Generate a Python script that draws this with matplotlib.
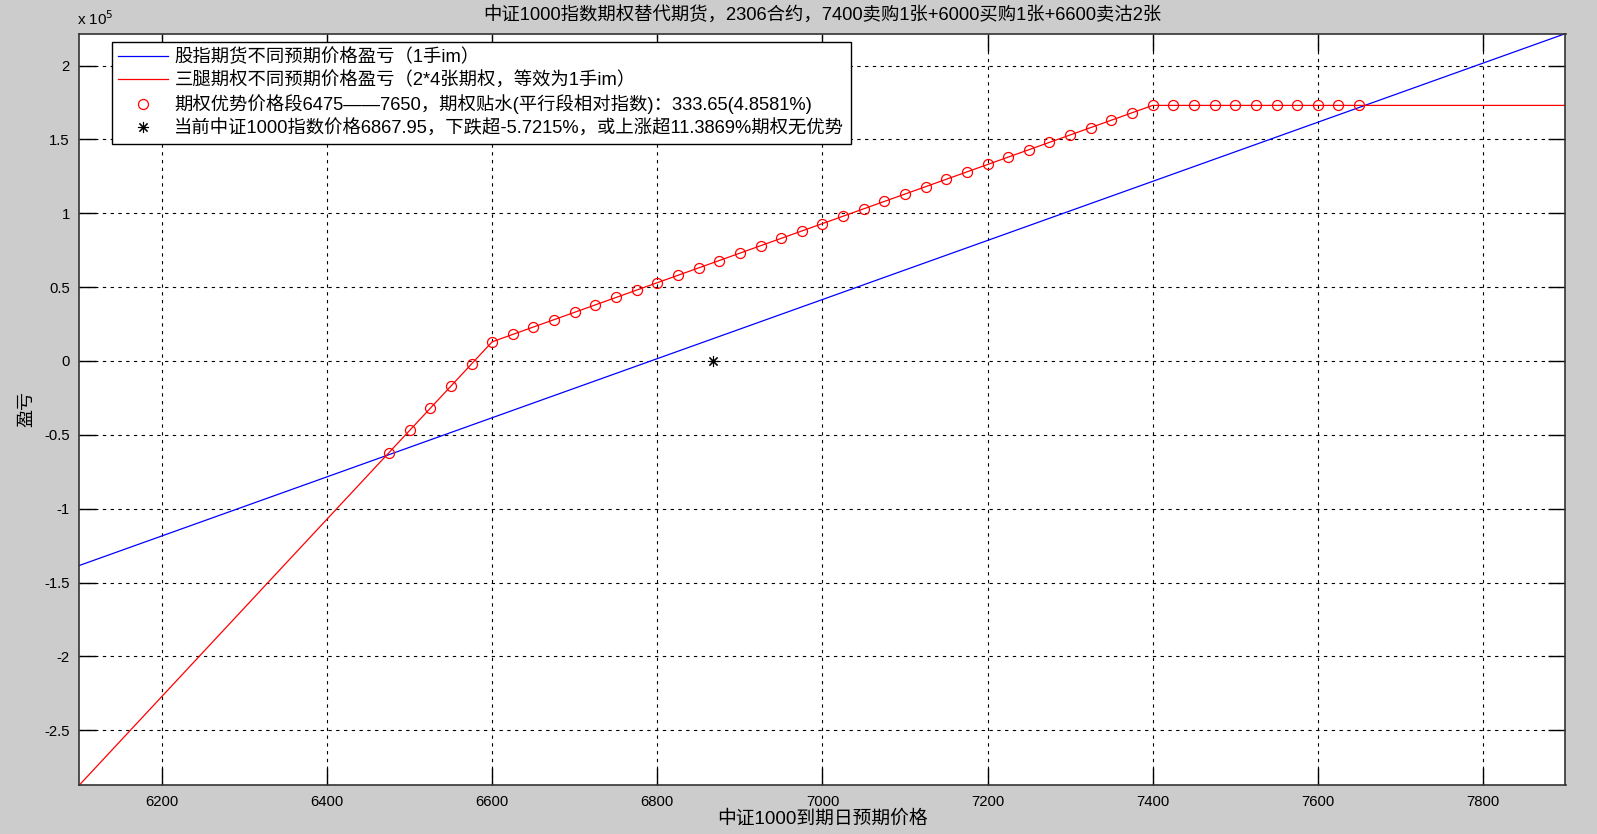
import matplotlib
matplotlib.use("Agg")
import matplotlib.pyplot as plt

plt.rcParams['font.family'] = ['Liberation Sans', 'Noto Sans CJK SC', 'DejaVu Sans']
plt.rcParams['axes.unicode_minus'] = False

# ---- data ----
futures_x = [6100, 7900]
futures_y = [-138400, 221600]

option_x = [6100, 6600, 7400, 7900]
option_y = [-287000, 13000, 173000, 173000]

adv_x = [6475, 6500, 6525, 6550, 6575, 6600, 6625, 6650, 6675, 6700,
         6725, 6750, 6775, 6800, 6825, 6850, 6875, 6900, 6925, 6950,
         6975, 7000, 7025, 7050, 7075, 7100, 7125, 7150, 7175, 7200,
         7225, 7250, 7275, 7300, 7325, 7350, 7375, 7400, 7425, 7450,
         7475, 7500, 7525, 7550, 7575, 7600, 7625, 7650]
adv_y = [-62000, -47000, -32000, -17000, -2000, 13000, 18000, 23000, 28000, 33000,
         38000, 43000, 48000, 53000, 58000, 63000, 68000, 73000, 78000, 83000,
         88000, 93000, 98000, 103000, 108000, 113000, 118000, 123000, 128000, 133000,
         138000, 143000, 148000, 153000, 158000, 163000, 168000, 173000, 173000, 173000,
         173000, 173000, 173000, 173000, 173000, 173000, 173000, 173000]

current_x = [6867.95]
current_y = [0]

x_ticks = [6200, 6400, 6600, 6800, 7000, 7200, 7400, 7600, 7800]
y_ticks = [-250000, -200000, -150000, -100000, -50000, 0, 50000, 100000, 150000, 200000]
y_tick_labels = ['-2.5', '-2', '-1.5', '-1', '-0.5', '0', '0.5', '1', '1.5', '2']

labels = ['股指期货不同预期价格盈亏（1手im）',
          '三腿期权不同预期价格盈亏（2*4张期权，等效为1手im）',
          '期权优势价格段6475——7650，期权贴水(平行段相对指数)：333.65(4.8581%)',
          '当前中证1000指数价格6867.95，下跌超-5.7215%，或上涨超11.3869%期权无优势']
title = '中证1000指数期权替代期货，2306合约，7400卖购1张+6000买购1张+6600卖沽2张'
xlabel = '中证1000到期日预期价格'
ylabel = '盈亏'

# ---- figure ----
W, H = 1597, 834
AX_L, AX_R, AX_T, AX_B = 79.4, 1565.5, 33.6, 785
fig = plt.figure(figsize=(W / 100, H / 100), dpi=100, facecolor='#cccccc')
ax = fig.add_axes([AX_L / W, (H - AX_B) / H, (AX_R - AX_L) / W, (AX_B - AX_T) / H])
ax.set_facecolor('white')

l1, = ax.plot(futures_x, futures_y, color='blue', lw=0.9)
l2, = ax.plot(option_x, option_y, color='red', lw=0.9)
l3, = ax.plot(adv_x, adv_y, linestyle='none', marker='o', markersize=7.2,
              markerfacecolor='none', markeredgecolor='red', markeredgewidth=0.9)
l4, = ax.plot(current_x, current_y, linestyle='none', marker=(8, 2, 0), markersize=8,
              color='black', markeredgewidth=0.8)

ax.set_xlim(6100, 7900)
ax.set_ylim(-287000, 221600)
ax.set_xticks(x_ticks)
ax.set_xticklabels([str(t) for t in x_ticks])
ax.set_yticks(y_ticks)
ax.set_yticklabels(y_tick_labels)
ax.tick_params(direction='in', length=12, width=1, top=True, right=True,
               labelsize=10.7, pad=7, colors='black')
ax.grid(True, color='black', linestyle=(0, (3, 4)), linewidth=0.8)
for s in ax.spines.values():
    s.set_color('#333333')
    s.set_linewidth(1.2)

fig.text(77 / W, 1 - 19 / H, r'x 10$^{5}$', fontsize=11, va='center', ha='left')
ax.set_title(title, fontsize=13.2, pad=9)
ax.set_xlabel(xlabel, fontsize=13.5, labelpad=1)
ax.set_ylabel(ylabel, fontsize=13, labelpad=6)

ax_w = AX_R - AX_L
ax_h = AX_B - AX_T
leg = ax.legend([l1, l2, l3, l4], labels, loc='upper left',
                bbox_to_anchor=((112 - AX_L) / ax_w, (AX_B - 42) / ax_h),
                borderaxespad=0, fontsize=13.2, handlelength=2.7,
                handletextpad=0.35, labelspacing=0.28, borderpad=0.35,
                fancybox=False, framealpha=1, edgecolor='black')
leg.get_frame().set_linewidth(1.0)

fig.savefig('out.png', dpi=100, facecolor=fig.get_facecolor())
